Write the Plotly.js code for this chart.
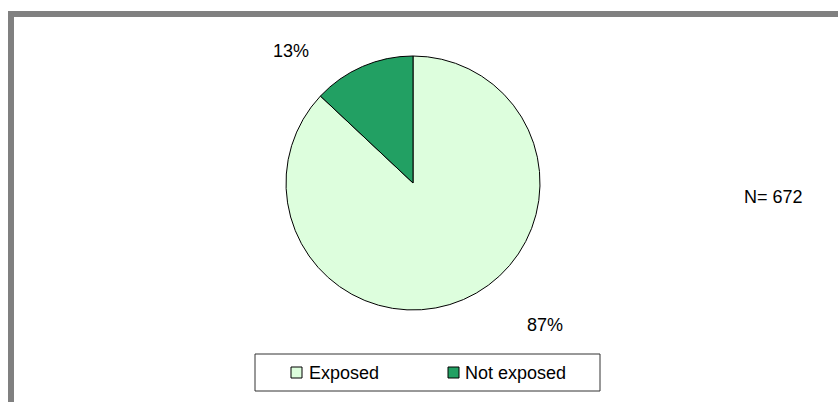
<!DOCTYPE html>
<html><head><meta charset="utf-8">
<script src="https://cdn.plot.ly/plotly-3.0.1.min.js"></script>
<style>html,body{margin:0;padding:0;background:#fff}#chart{width:838px;height:402px}</style>
</head><body><div id="chart"></div>
<script>
const categories = ["Exposed", "Not exposed"];
const values = [87, 13];
const colors = ["#DDFEDD", "#22A063"];
const sampleNote = "N= 672";

const W = 838, H = 402;
const px = x => x / W;
const py = y => 1 - y / H;

const total = values.reduce((a, b) => a + b, 0);
const pct = values.map(v => Math.round(v / total * 100) + "%");

const trace = {
  type: "pie",
  labels: categories,
  values: values,
  sort: false,
  direction: "clockwise",
  rotation: 0,
  textinfo: "none",
  hoverinfo: "label+percent",
  showlegend: false,
  marker: {colors: colors, line: {color: "#000", width: 1}},
  domain: {x: [px(286), px(540)], y: [py(310), py(56)]}
};

const font = {family: "Liberation Sans, Arial, sans-serif", size: 18, color: "#000"};

// legend drawn as shapes + text, entries taken from the category arrays
const legendMarkX = [291, 448];
const legendTextX = [307, 463];
const legendY = 372.5;

const shapes = [
  {type: "rect", xref: "paper", yref: "paper",
   x0: px(11), x1: px(845), y0: py(410), y1: py(14),
   line: {color: "#808080", width: 6}},
  {type: "rect", xref: "paper", yref: "paper",
   x0: px(255), x1: px(600), y0: py(391), y1: py(354),
   line: {color: "#333", width: 1}, fillcolor: "#fff"}
];
const centered = {xref: "paper", yref: "paper", showarrow: false, font: font, xanchor: "center", yanchor: "middle"};
const annotations = [
  Object.assign({text: pct[1], x: px(291), y: py(51)}, centered),
  Object.assign({text: pct[0], x: px(545), y: py(325)}, centered),
  Object.assign({text: sampleNote, x: px(773), y: py(197)}, centered)
];
categories.forEach((c, i) => {
  shapes.push({type: "rect", xref: "paper", yref: "paper",
    x0: px(legendMarkX[i]), x1: px(legendMarkX[i] + 11),
    y0: py(legendY + 5.5), y1: py(legendY - 5.5),
    line: {color: "#000", width: 1}, fillcolor: colors[i]});
  annotations.push({text: c, x: px(legendTextX[i]), y: py(legendY), xanchor: "left", yanchor: "middle",
    xref: "paper", yref: "paper", showarrow: false, font: font});
});

const layout = {
  width: W, height: H,
  margin: {l: 0, r: 0, t: 0, b: 0},
  paper_bgcolor: "#fff",
  font: font,
  showlegend: false,
  shapes: shapes,
  annotations: annotations
};

Plotly.newPlot("chart", [trace], layout, {displayModeBar: false, staticPlot: true});
</script></body></html>
